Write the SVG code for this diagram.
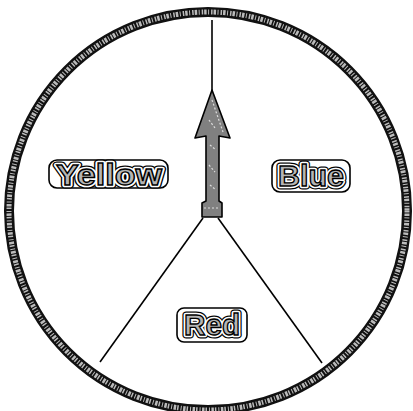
<svg xmlns="http://www.w3.org/2000/svg" width="413" height="411" viewBox="0 0 413 411">
<style>
.lbl{font-family:"Liberation Sans",Arial,sans-serif;font-weight:bold;font-size:29px;text-anchor:middle;}
.halo{fill:none;stroke:#000;stroke-width:7;stroke-linejoin:round;}
.halo2{fill:none;stroke:#fff;stroke-width:4.6;stroke-linejoin:round;}
.glyph{fill:#b5b5b5;stroke:#000;stroke-width:1.3;}
.box{fill:#fff;stroke:#000;stroke-width:1.6;}
.line{stroke:#000;stroke-width:1.6;fill:none;}
</style>
<rect width="413" height="411" fill="#fff"/>
<g id="ring">
<ellipse cx="208" cy="211" rx="199" ry="199" fill="none" stroke="#111" stroke-width="10"/>
<ellipse cx="208" cy="211" rx="199" ry="199" fill="none" stroke="#bbb" stroke-width="5" stroke-dasharray="1.5 1 2.5 1.5 1 2"/>
</g>
<g id="connectors">
<line class="line" x1="212" y1="20" x2="212" y2="92"/>
<line class="line" x1="203" y1="218" x2="100" y2="362"/>
<line class="line" x1="218" y1="218" x2="322" y2="363"/>
</g>
<g id="arrow">
<path d="M212,90 L230,138 L219,136 L219,201 L222,203 L222,217 L202,217 L202,203 L206,201 L206,136 L195,138 Z" fill="#808080" stroke="#000" stroke-width="1.6" stroke-linejoin="round"/>
<path d="M212,100 L223,132 M209,120 L215,128 M210,145 L216,150 M209,165 L215,172 M210,185 L216,190 M204,208 L219,208" stroke="#ddd" stroke-width="1.2" stroke-dasharray="2 2" fill="none"/>
</g>
<g id="yellow">
<rect class="box" x="49" y="160" width="119" height="28" rx="8"/>
<text class="lbl halo" x="109" y="185" textLength="106" lengthAdjust="spacingAndGlyphs">Yellow</text>
<text class="lbl halo2" x="109" y="185" textLength="106" lengthAdjust="spacingAndGlyphs">Yellow</text>
<text class="lbl glyph" x="109" y="185" textLength="106" lengthAdjust="spacingAndGlyphs">Yellow</text>
</g>
<g id="blue">
<rect class="box" x="272" y="160" width="78" height="32" rx="8"/>
<text class="lbl halo" x="311" y="186" textLength="66" lengthAdjust="spacingAndGlyphs">Blue</text>
<text class="lbl halo2" x="311" y="186" textLength="66" lengthAdjust="spacingAndGlyphs">Blue</text>
<text class="lbl glyph" x="311" y="186" textLength="66" lengthAdjust="spacingAndGlyphs">Blue</text>
</g>
<g id="red">
<rect class="box" x="177" y="308" width="70" height="34" rx="7"/>
<text class="lbl halo" x="212" y="335" textLength="56" lengthAdjust="spacingAndGlyphs">Red</text>
<text class="lbl halo2" x="212" y="335" textLength="56" lengthAdjust="spacingAndGlyphs">Red</text>
<text class="lbl glyph" x="212" y="335" textLength="56" lengthAdjust="spacingAndGlyphs">Red</text>
</g>
</svg>
